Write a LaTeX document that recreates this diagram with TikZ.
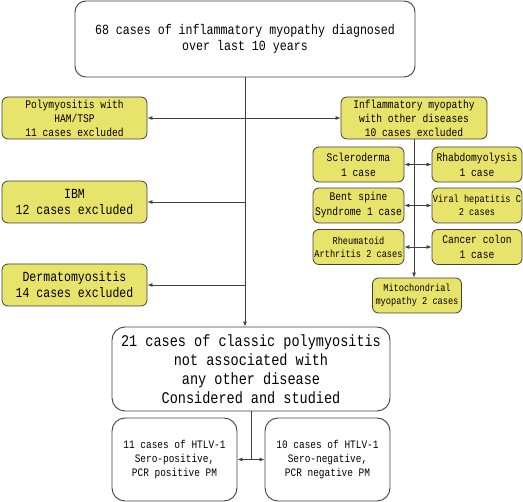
\documentclass[tikz,border=0pt]{standalone}
\usepackage{fontspec}
\usetikzlibrary{arrows.meta}
\newfontfamily\gothic[FakeStretch=0.83]{Liberation Mono}
\definecolor{boxyellow}{HTML}{E8E36A}
\definecolor{boxline}{HTML}{404040}

\tikzset{
  whitebox/.style={draw=boxline, line width=0.9pt, rounded corners=11pt, fill=white,
    align=center, inner sep=0pt},
  yellowbox/.style={draw=boxline, line width=0.8pt, rounded corners=6pt, fill=boxyellow,
    align=center, inner sep=0pt},
  fs/.style={font=\gothic\fontsize{#1}{#1*1.15}\selectfont},
  link/.style={draw=boxline, line width=0.8pt},
  >={Latex[length=5pt,width=4pt]}
}

\begin{document}
\begin{tikzpicture}[x=1pt, y=-1pt]
  \useasboundingbox (0, 0) rectangle (523, 502);

  \node[whitebox, minimum width=340pt, minimum height=76pt,
    font=\gothic\fontsize{14}{16}\selectfont] (top) at (245, 39)
    {68 cases of inflammatory myopathy diagnosed\\over last 10 years};

  \node[yellowbox, minimum width=145pt, minimum height=42pt,
    font=\gothic\fontsize{11.6}{14}\selectfont] (poly) at (74.5, 118)
    {Polymyositis with\\HAM/TSP\\11 cases excluded};
  \node[yellowbox, minimum width=146pt, minimum height=42pt,
    font=\gothic\fontsize{11.6}{14}\selectfont] (inflam) at (414, 118)
    {Inflammatory myopathy\\with other diseases\\10 cases excluded};
  \node[yellowbox, minimum width=145pt, minimum height=42pt,
    font=\gothic\fontsize{13.9}{16}\selectfont] (ibm) at (74.5, 202)
    {IBM\\12 cases excluded};
  \node[yellowbox, minimum width=145pt, minimum height=42pt,
    font=\gothic\fontsize{13.9}{16}\selectfont] (derm) at (74.5, 285)
    {Dermatomyositis\\14 cases excluded};

  % other diseases
  \node[yellowbox, minimum width=91pt, minimum height=35pt,
    font=\gothic\fontsize{11.6}{15}\selectfont] (sclero) at (358.5, 164.5)
    {Scleroderma\\1 case};
  \node[yellowbox, minimum width=90pt, minimum height=35pt,
    font=\gothic\fontsize{11.6}{15}\selectfont] (rhabdo) at (477, 164.5)
    {Rhabdomyolysis\\1 case};
  \node[yellowbox, minimum width=91pt, minimum height=35pt,
    font=\gothic\fontsize{11.6}{15}\selectfont] (bent) at (358.5, 205.5)
    {Bent spine\\Syndrome 1 case};
  \node[yellowbox, minimum width=90pt, minimum height=35pt,
    font=\gothic\fontsize{10.4}{13}\selectfont] (viral) at (477, 205.5)
    {Viral hepatitis C\\2 cases};
  \node[yellowbox, minimum width=91pt, minimum height=35pt,
    font=\gothic\fontsize{10.4}{13}\selectfont] (rheum) at (358.5, 247)
    {Rheumatoid\\Arthritis 2 cases};
  \node[yellowbox, minimum width=90pt, minimum height=35pt,
    font=\gothic\fontsize{11.6}{15}\selectfont] (cancer) at (477, 247)
    {Cancer colon\\1 case};
  \node[yellowbox, minimum width=89pt, minimum height=35pt,
    font=\gothic\fontsize{10.4}{13}\selectfont] (mito) at (417, 295.5)
    {Mitochondrial\\myopathy 2 cases};

  \node[whitebox, rounded corners=13pt, minimum width=278pt, minimum height=84pt,
    font=\gothic\fontsize{16.3}{19}\selectfont] (classic) at (251, 369)
    {21 cases of classic polymyositis\\not associated with\\any other disease\\Considered and studied};

  \node[whitebox, rounded corners=13pt, minimum width=125pt, minimum height=83pt,
    font=\gothic\fontsize{11.4}{14}\selectfont] (pos) at (174.5, 459.5)
    {11 cases of HTLV-1\\Sero-positive,\\PCR positive PM};
  \node[whitebox, rounded corners=13pt, minimum width=125pt, minimum height=83pt,
    font=\gothic\fontsize{11.4}{14}\selectfont] (neg) at (327.5, 459.5)
    {10 cases of HTLV-1\\Sero-negative,\\PCR negative PM};

  % connectors
  \draw[link, ->] (top.south) -- (top.south |- classic.north);
  \draw[link, <->] (poly.east) -- (inflam.west);
  \foreach \n in {ibm, derm}
    \draw[link, ->] (top.south |- \n.east) -- (\n.east);

  \draw[link, ->] (inflam.south) -- (inflam.south |- mito.north);
  \foreach \l/\r in {sclero/rhabdo, bent/viral, rheum/cancer}
    \draw[link, <->] (\l.east) -- (\r.west);

  \draw[link] (classic.south) -- (classic.south |- pos.east);
  \draw[link, <->] (pos.east) -- (neg.west);

\end{tikzpicture}
\end{document}
